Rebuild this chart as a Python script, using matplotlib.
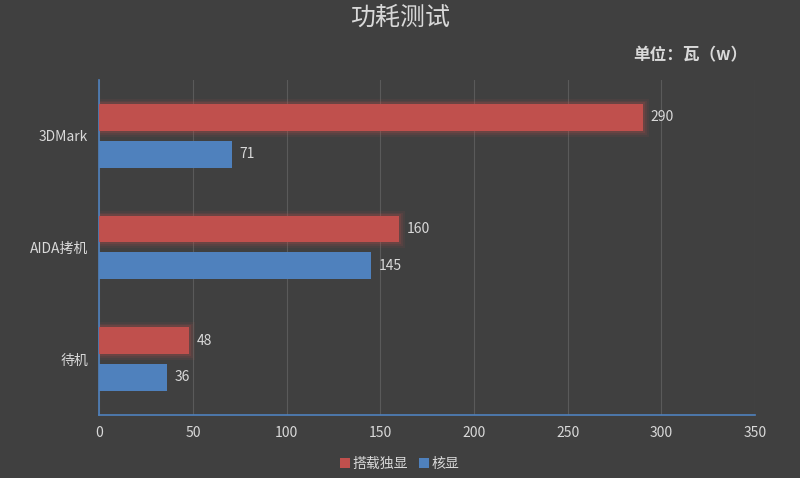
import matplotlib.pyplot as plt
import numpy as np

categories = ["待机", "AIDA拷机", "3DMark"]
dgpu_watts = [48, 160, 290]
igpu_watts = [36, 145, 71]
series_names = ["搭载独显", "核显"]
x_ticks = [0, 50, 100, 150, 200, 250, 300, 350]

bg = "#404040"
red = "#c0504d"
blue = "#4f81bd"
txt = "#d9d9d9"

plt.rcParams["font.family"] = ["Noto Sans CJK SC", "DejaVu Sans"]

fig = plt.figure(figsize=(8, 4.78), dpi=100, facecolor=bg)
ax = fig.add_axes([0.124, 0.132, 0.82, 0.701], facecolor=bg)

y = np.arange(len(categories))
h = 0.24
off = 0.165

# soft glow around the red bars
for lw, a in [(8, 0.08), (5, 0.12), (3, 0.18)]:
    ax.barh(y + off, dgpu_watts, height=h, color="none", edgecolor=red,
            linewidth=lw, alpha=a, zorder=2)
b1 = ax.barh(y + off, dgpu_watts, height=h, color=red, zorder=3, label=series_names[0])
b2 = ax.barh(y - off, igpu_watts, height=h, color=blue, zorder=3, label=series_names[1])

for v, yy in zip(dgpu_watts, y + off):
    ax.text(v + 4, yy, str(v), va="center", ha="left", color=txt, fontsize=10)
for v, yy in zip(igpu_watts, y - off):
    ax.text(v + 4, yy, str(v), va="center", ha="left", color=txt, fontsize=10)

ax.set_xlim(0, 350)
ax.set_ylim(-0.5, 2.5)
ax.set_xticks(x_ticks)
ax.set_yticks(y)
ax.set_yticklabels(categories)
ax.tick_params(colors=txt, labelsize=10, length=0, pad=8)
ax.grid(axis="x", color="#5a5a5a", linewidth=0.8, zorder=0)
ax.set_axisbelow(True)
for s in ["top", "right"]:
    ax.spines[s].set_visible(False)
for s in ["left", "bottom"]:
    ax.spines[s].set_color(blue)
    ax.spines[s].set_linewidth(1.2)

fig.text(0.5, 0.962, "功耗测试", ha="center", va="center", color=txt, fontsize=18)
fig.text(0.934, 0.885, "单位：瓦（w）", ha="right", va="center", color=txt,
         fontsize=12, fontweight="bold")

leg = fig.legend(handles=[b1, b2], loc="center", bbox_to_anchor=(0.5, 0.03),
                 ncol=2, frameon=False, fontsize=10, handlelength=0.7,
                 handleheight=0.7, handletextpad=0.2, columnspacing=0.8)
for t in leg.get_texts():
    t.set_color(txt)

fig.savefig("out.png", dpi=100, facecolor=bg)
